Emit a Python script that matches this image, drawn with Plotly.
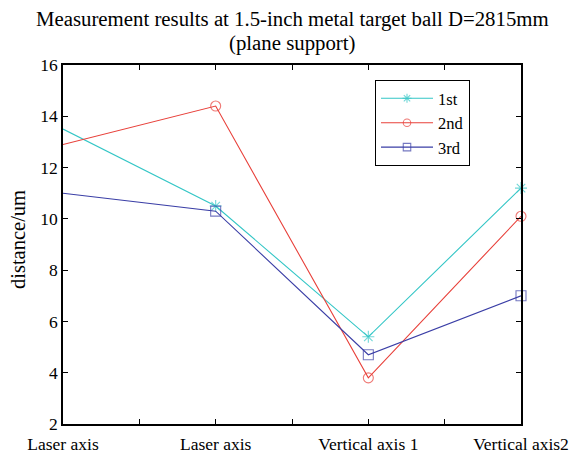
import plotly.graph_objects as go

x_pos = [1, 2, 3, 4]
tick_vals = [1, 1.5, 2, 2.5, 3, 3.5, 4]
tick_text = ["Laser axis", "", "Laser axis", "", "Vertical axis 1", "", "Vertical axis2"]
first = [13.5, 10.5, 5.4, 11.2]
second = [12.9, 14.4, 3.8, 10.1]
third = [11.0, 10.3, 4.7, 7.0]
y_ticks = [2, 4, 6, 8, 10, 12, 14, 16]
title_lines = ["Measurement results at 1.5-inch metal target ball D=2815mm", "(plane support)"]
y_title = "distance/um"

FONT = "Liberation Serif, Times New Roman, serif"
msize = [0, 10, 10, 10]

L, R, T, B = 63, 56, 65, 32
W, H = 577, 456
ph = H - T - B
pw = W - L - R

fig = go.Figure()
series = [
    ("1st", first, "#33c6c6", "asterisk-open"),
    ("2nd", second, "#e8403a", "circle-open"),
    ("3rd", third, "#3a3ea6", "square-open"),
]
for name, ys, col, sym in series:
    fig.add_trace(go.Scatter(
        x=x_pos, y=ys, name=name, mode="lines+markers",
        line=dict(color=col, width=1.1),
        marker=dict(symbol=sym, size=msize, color=col, line=dict(color=col, width=1.1)),
        cliponaxis=False,
    ))

annots = [
    dict(text=title_lines[0], xref="paper", yref="paper", x=0.5, y=1 + (T - 19) / ph,
         xanchor="center", yanchor="middle", showarrow=False,
         font=dict(family=FONT, size=20.8, color="black")),
    dict(text=title_lines[1], xref="paper", yref="paper", x=0.5, y=1 + (T - 43) / ph,
         xanchor="center", yanchor="middle", showarrow=False,
         font=dict(family=FONT, size=20.8, color="black")),
    dict(text=y_title, xref="paper", yref="paper", x=(18 - L) / pw, y=(H - B - 240) / ph,
         xanchor="center", yanchor="middle", showarrow=False, textangle=-90,
         font=dict(family=FONT, size=20.5, color="black")),
]

fig.update_layout(
    width=W, height=H,
    margin=dict(l=L, r=R, t=T, b=B, autoexpand=False),
    paper_bgcolor="white", plot_bgcolor="white",
    font=dict(family=FONT, size=17, color="black"),
    annotations=annots,
    showlegend=True,
    legend=dict(
        x=(375 - L) / pw, y=(H - B - 80) / ph, xanchor="left", yanchor="top",
        bgcolor="white", bordercolor="black", borderwidth=1,
        font=dict(family=FONT, size=16.5),
        itemwidth=52, tracegroupgap=0,
    ),
)
fig.update_xaxes(
    range=[1, 4], tickmode="array", tickvals=tick_vals, ticktext=tick_text,
    ticks="inside", ticklen=5, tickcolor="black", showgrid=False, zeroline=False,
    showline=True, linecolor="black", linewidth=1.5, mirror="ticks",
    tickfont=dict(family=FONT, size=17.5), tickangle=0, automargin=False,
    ticklabelstandoff=3,
)
fig.update_yaxes(
    range=[2, 16], tickmode="array", tickvals=y_ticks,
    ticks="inside", ticklen=5, tickcolor="black", showgrid=False, zeroline=False,
    showline=True, linecolor="black", linewidth=1.5, mirror="ticks",
    tickfont=dict(family=FONT, size=17.5), automargin=False,
)

fig.write_html("out.html", config={"displayModeBar": False},
               post_script="document.body.style.margin='0';")
